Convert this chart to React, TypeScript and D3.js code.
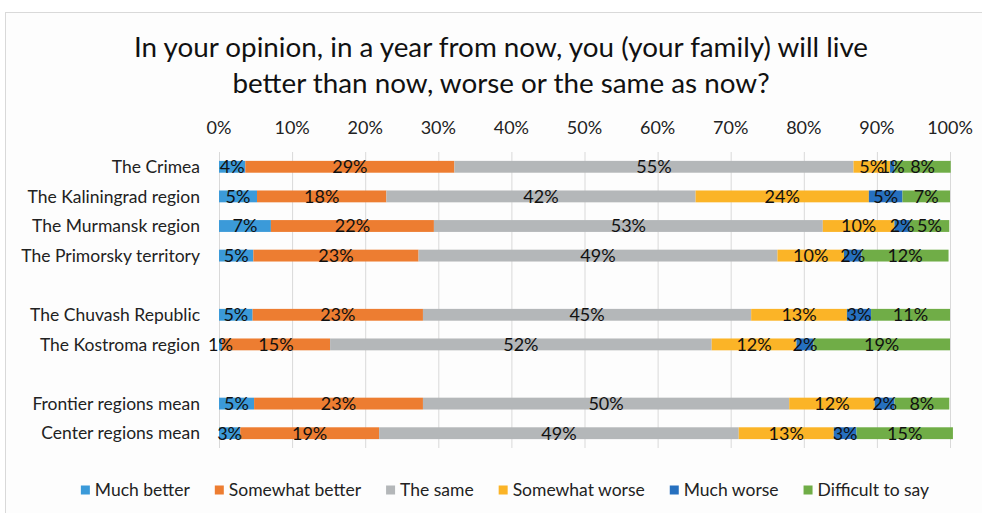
import React, { useEffect, useRef } from "react";
import * as d3 from "d3";

const W = 982;
const H = 513;

const titleLines = [
  "In your opinion, in a year from now, you (your family) will live",
  "better than now, worse or the same as now?",
];

// rows of the chart; empty strings are spacer rows
const categories = [
  "The Crimea",
  "The Kaliningrad region",
  "The Murmansk region",
  "The Primorsky territory",
  "",
  "The Chuvash Republic",
  "The Kostroma region",
  "",
  "Frontier regions mean",
  "Center regions mean",
];

const seriesNames = [
  "Much better",
  "Somewhat better",
  "The same",
  "Somewhat worse",
  "Much worse",
  "Difficult to say",
];
const seriesColors = ["#3b9ad9", "#ed7d31", "#b4b7b9", "#fbb427", "#2670bf", "#70ad47"];

// bar widths (%) per non-spacer row
const muchBetter = [3.6, 5.2, 7.1, 4.7, 4.6, 0.4, 4.8, 2.9];
const somewhatBetter = [28.6, 17.7, 22.3, 22.6, 23.3, 14.8, 23.1, 19.0];
const theSame = [54.6, 42.3, 53.2, 49.1, 44.9, 52.2, 50.1, 49.2];
const somewhatWorse = [5.0, 23.7, 9.8, 9.1, 13.1, 11.6, 11.7, 13.0];
const muchWorse = [0.6, 4.6, 2.1, 2.4, 3.3, 2.3, 2.7, 3.1];
const difficult = [7.7, 6.5, 5.4, 11.9, 10.8, 18.7, 7.5, 13.2];

// data labels as printed on the bars
const muchBetterLbl = [4, 5, 7, 5, 5, 1, 5, 3];
const somewhatBetterLbl = [29, 18, 22, 23, 23, 15, 23, 19];
const theSameLbl = [55, 42, 53, 49, 45, 52, 50, 49];
const somewhatWorseLbl = [5, 24, 10, 10, 13, 12, 12, 13];
const muchWorseLbl = [1, 5, 2, 2, 3, 2, 2, 3];
const difficultLbl = [8, 7, 5, 12, 11, 19, 8, 15];

const xTicks = [0, 10, 20, 30, 40, 50, 60, 70, 80, 90, 100];

const FONT = "Lato, 'Open Sans', sans-serif";

export default function App() {
  const ref = useRef<SVGSVGElement>(null);

  useEffect(() => {
    document.body.style.margin = "0";
    const svg = d3.select(ref.current);
    svg.selectAll("*").remove();

    const values = [muchBetter, somewhatBetter, theSame, somewhatWorse, muchWorse, difficult];
    const labels = [muchBetterLbl, somewhatBetterLbl, theSameLbl, somewhatWorseLbl, muchWorseLbl, difficultLbl];

    const rowIdx: number[] = [];
    categories.forEach((c, i) => {
      if (c !== "") rowIdx.push(i);
    });

    const x = d3.scaleLinear().domain([0, 100]).range([219, 950]);
    const y = d3
      .scaleBand<number>()
      .domain(d3.range(categories.length))
      .range([152, 448])
      .paddingInner(0.6)
      .paddingOuter(0.3);

    // frame
    svg
      .append("rect")
      .attr("x", 5.5)
      .attr("y", 12.5)
      .attr("width", 1000)
      .attr("height", 600)
      .attr("fill", "#fdfdfd")
      .attr("stroke", "#d9d9d9");

    // title
    const title = svg
      .append("text")
      .attr("text-anchor", "middle")
      .attr("font-family", FONT)
      .attr("font-size", 27.8)
      .attr("fill", "#111");
    titleLines.forEach((t, i) => {
      title
        .append("tspan")
        .attr("x", 501)
        .attr("y", 57 + i * 36)
        .text(t);
    });

    // gridlines
    svg
      .append("g")
      .selectAll("line")
      .data(xTicks)
      .join("line")
      .attr("x1", (d) => x(d) + 0.5)
      .attr("x2", (d) => x(d) + 0.5)
      .attr("y1", 152)
      .attr("y2", 448)
      .attr("stroke", "#d9d9d9")
      .attr("stroke-width", 1);

    // tick labels
    svg
      .append("g")
      .selectAll("text")
      .data(xTicks)
      .join("text")
      .attr("x", (d) => x(d))
      .attr("y", 134)
      .attr("text-anchor", "middle")
      .attr("font-family", FONT)
      .attr("font-size", 18)
      .attr("fill", "#222")
      .text((d) => d + "%");

    // category labels
    svg
      .append("g")
      .selectAll("text")
      .data(categories.map((c, i) => ({ c, i })).filter((d) => d.c !== ""))
      .join("text")
      .attr("x", 200)
      .attr("y", (d) => (y(d.i) as number) + y.bandwidth() / 2)
      .attr("dy", "0.35em")
      .attr("text-anchor", "end")
      .attr("font-family", FONT)
      .attr("font-size", 17.5)
      .attr("fill", "#222")
      .text((d) => d.c);

    // stacked bars
    const stackData = rowIdx.map((ci, r) => {
      const o: any = { ci };
      seriesNames.forEach((s, k) => (o[s] = values[k][r]));
      return o;
    });
    const stacked = d3.stack<any>().keys(seriesNames)(stackData);

    const bars = svg.append("g");
    stacked.forEach((layer, k) => {
      bars
        .append("g")
        .attr("fill", seriesColors[k])
        .selectAll("rect")
        .data(layer)
        .join("rect")
        .attr("x", (d) => x(d[0]))
        .attr("width", (d) => x(d[1]) - x(d[0]))
        .attr("y", (d) => y(d.data.ci) as number)
        .attr("height", y.bandwidth());
    });

    const lbls = svg.append("g");
    stacked.forEach((layer, k) => {
      lbls
        .append("g")
        .selectAll("text")
        .data(layer.map((d, r) => ({ d, r })))
        .join("text")
        .attr("x", (o) => (x(o.d[0]) + x(o.d[1])) / 2)
        .attr("y", (o) => (y(o.d.data.ci) as number) + y.bandwidth() / 2)
        .attr("dy", "0.36em")
        .attr("text-anchor", "middle")
        .attr("font-family", FONT)
        .attr("font-size", 18)
        .attr("fill", "#111")
        .text((o) => labels[k][o.r] + "%");
    });

    // legend
    const leg = svg.append("g").attr("font-family", FONT).attr("font-size", 17.5);
    const items = leg.selectAll("g").data(seriesNames).join("g");
    items
      .append("rect")
      .attr("width", 9)
      .attr("height", 9)
      .attr("y", -4.5)
      .attr("fill", (d, i) => seriesColors[i]);
    items
      .append("text")
      .attr("x", 14)
      .attr("dy", "0.35em")
      .attr("fill", "#222")
      .text((d) => d);
    const widths: number[] = [];
    items.each(function () {
      const t = d3.select(this).select("text").node() as SVGTextElement;
      widths.push(14 + t.getComputedTextLength());
    });
    const gap = 25;
    const total = d3.sum(widths) + gap * (widths.length - 1);
    let cx = 505 - total / 2;
    items.each(function (d, i) {
      d3.select(this).attr("transform", `translate(${cx},490)`);
      cx += widths[i] + gap;
    });
  }, []);

  return (
    <svg
      ref={ref}
      width={W}
      height={H}
      style={{ position: "absolute", left: 0, top: 0, background: "#fff" }}
    />
  );
}
